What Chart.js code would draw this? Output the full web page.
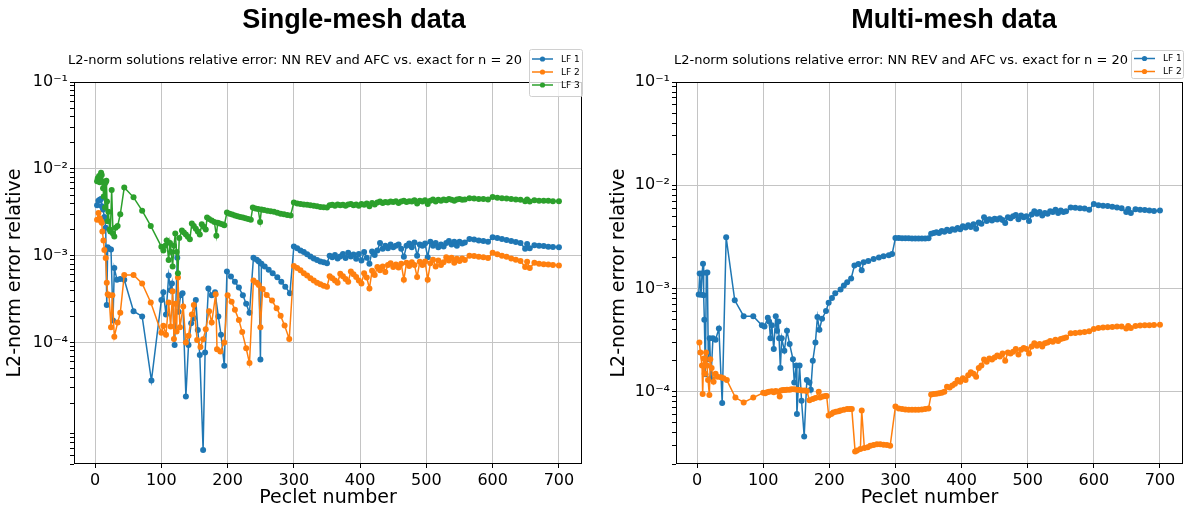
<!DOCTYPE html>
<html lang="en">

<head>
    <meta charset="UTF-8">
    <script src="https://cdn.jsdelivr.net/npm/chart.js"></script>
    <title>Peclet error</title>
    <style>
        body { margin: 0; background: #fff; }
        #wrap { position: relative; width: 1192px; height: 510px; overflow: hidden; }
        canvas { position: absolute; top: 0; }
        .bigtitle { position: absolute; top: 6px; font: bold 27px "Liberation Sans", Arial, sans-serif; line-height: 27px; transform: translateX(-50%); white-space: nowrap; color: #000; }
        .subtitle { position: absolute; top: 52px; font: 13px "DejaVu Sans"; line-height: 16px; transform: translateX(-50%); white-space: nowrap; color: #000; }
    </style>
</head>

<body>
    <div id="wrap">
        <canvas id="cSingle" width="596" height="510" style="left:0"></canvas>
        <canvas id="cMulti" width="596" height="510" style="left:596px"></canvas>
        <div class="bigtitle" style="left:354px">Single-mesh data</div>
        <div class="bigtitle" style="left:954px">Multi-mesh data</div>
        <div class="subtitle" style="left:295px">L2-norm solutions relative error: NN REV and AFC vs. exact for n = 20</div>
        <div class="subtitle" style="left:901px">L2-norm solutions relative error: NN REV and AFC vs. exact for n = 20</div>
    </div>
    <script>
        // Peclet numbers above 300 (same for every series)
        const peHigh = [300, 305, 310, 315, 320, 325, 330, 335, 340, 345, 350,
            354, 358, 362, 366, 370, 374, 378, 382, 386, 390, 394, 398, 402, 406, 410, 414, 418, 422, 426, 430,
            434, 438, 442, 446, 450, 454, 458, 462, 466, 470, 474, 478, 482, 486, 490, 494, 498, 502, 506, 510,
            514, 518, 522, 526, 530, 534, 538, 542, 546, 550, 554, 558,
            565, 572, 579, 586, 593, 600, 607, 614, 621, 628, 635, 642, 649, 652, 656, 663, 670, 677, 684, 691, 700];

        // ---- single-mesh ----
        const sLf1LowX = [3, 5, 7, 9, 10, 12, 14, 16, 17.6, 19, 21, 24, 27, 29, 33, 38, 44, 58, 71, 85,
            100, 103, 107, 111, 114, 116, 120, 124, 126, 129, 132, 137, 141, 145, 149, 152, 155, 158, 163, 166,
            171, 176, 181, 186, 190, 195, 199, 205, 211, 217, 223, 228, 233, 239, 244, 247, 249.5, 251, 256, 262,
            268, 275, 281, 287, 294];
        const sLf1LowY = [3.8e-3, 4.3e-3, 4.4e-3, 4.5e-3, 3.7e-3, 3.4e-3, 2.8e-3, 2.1e-3, 2.7e-4, 1.25e-3,
            1.2e-3, 1.18e-3, 1.8e-4, 7.2e-4, 5.3e-4, 5.4e-4, 5.3e-4, 2.3e-4, 2.0e-4, 3.66e-5,
            3.1e-4, 3.8e-4, 2.1e-4, 5.9e-4, 4.0e-4, 4.8e-4, 9.4e-5, 9.5e-4, 2.27e-4, 3.5e-4,
            3.7e-4, 2.4e-5, 9.4e-5, 1.67e-4, 1.9e-4, 3.1e-4, 1.4e-4, 7.2e-5, 5.8e-6, 7.7e-5,
            4.2e-4, 3.5e-4, 3.8e-4, 2.0e-4, 1.23e-4, 5.4e-5, 6.6e-4, 5.75e-4, 5.0e-4, 4.3e-4,
            3.5e-4, 2.8e-4, 2.2e-4, 9.5e-4, 9.0e-4, 8.6e-4, 6.4e-5, 8.1e-4, 7.5e-4, 6.9e-4,
            6.3e-4, 5.65e-4, 5.0e-4, 4.4e-4, 3.7e-4];
        const sLf1HighY = [1.28e-3, 1.22e-3, 1.15e-3, 1.1e-3, 1.04e-3, 9.8e-4, 9.3e-4, 8.9e-4, 8.6e-4, 8.4e-4, 8.2e-4,
            1.0e-3, 9.6e-4, 1.02e-3, 9.3e-4, 9.8e-4, 1.05e-3, 9.4e-4, 1.08e-3, 9.8e-4, 1.03e-3,
            9.2e-4, 1.05e-3, 8.8e-4, 1.1e-3, 9.5e-4, 8.1e-4, 1.12e-3, 1.02e-3, 1.15e-3, 1.4e-3,
            1.2e-3, 1.3e-3, 1.22e-3, 1.35e-3, 1.25e-3, 1.3e-3, 1.35e-3, 1.2e-3, 9.7e-4, 1.3e-3,
            1.38e-3, 1.25e-3, 1.42e-3, 1.0e-3, 1.35e-3, 1.3e-3, 1.38e-3, 9.6e-4, 1.45e-3, 1.3e-3,
            1.4e-3, 1.25e-3, 1.35e-3, 1.28e-3, 1.4e-3, 1.48e-3, 1.35e-3, 1.45e-3, 1.3e-3, 1.45e-3,
            1.38e-3, 1.42e-3,
            1.56e-3, 1.54e-3, 1.5e-3, 1.48e-3, 1.45e-3, 1.63e-3, 1.6e-3, 1.56e-3, 1.52e-3, 1.48e-3, 1.44e-3,
            1.4e-3, 1.2e-3, 1.36e-3, 1.22e-3, 1.32e-3, 1.3e-3, 1.29e-3, 1.27e-3, 1.26e-3, 1.25e-3];

        const sLf2LowX = [3, 5, 7, 9, 10, 11, 12.6, 14, 16, 17.6, 19, 21, 24, 26, 29, 34, 38, 44, 58, 71,
            84, 100, 103, 107, 111, 114, 117, 119, 121, 123, 125, 128, 133, 137, 141, 146, 149, 154, 159, 163,
            167, 172, 176, 182, 184, 189, 195, 200, 206, 211, 217, 222, 228, 233, 239, 244, 247, 249.5, 253, 259,
            267, 274, 280, 286, 293];
        const sLf2LowY = [2.6e-3, 3.1e-3, 2.7e-3, 2.5e-3, 2.4e-3, 1.9e-3, 1.5e-3, 1.16e-3, 9.4e-4, 4.9e-4,
            3.6e-4, 3.5e-4, 1.5e-4, 3.5e-4, 1.17e-4, 1.7e-4, 2.2e-4, 6.0e-4, 6.0e-4, 4.8e-4,
            2.9e-4, 1.3e-4, 1.56e-4, 1.23e-4, 2.9e-4, 1.53e-4, 3.9e-4, 1.1e-4, 2.8e-4, 1.34e-4,
            5.6e-4, 1.5e-4, 2.6e-4, 1.0e-4, 1.2e-4, 2.1e-4, 2.7e-4, 1.07e-4, 8.9e-5, 1.09e-4,
            1.42e-4, 2.3e-4, 1.7e-4, 3.6e-4, 8.4e-5, 7.9e-5, 1.0e-4, 3.5e-4, 2.96e-4, 2.38e-4,
            1.82e-4, 1.32e-4, 8.6e-5, 5.8e-5, 5.2e-4, 4.9e-4, 4.6e-4, 1.5e-4, 4.15e-4, 3.54e-4,
            3.05e-4, 2.48e-4, 2.03e-4, 1.57e-4, 1.1e-4];
        const sLf2HighY = [7.6e-4, 7.2e-4, 6.8e-4, 6.3e-4, 5.9e-4, 5.5e-4, 5.2e-4, 4.9e-4, 4.7e-4, 4.5e-4, 4.4e-4,
            5.8e-4, 5.5e-4, 5.2e-4, 4.9e-4, 6.2e-4, 5.8e-4, 5.4e-4, 5.0e-4, 6.6e-4, 6.1e-4,
            5.7e-4, 5.2e-4, 4.8e-4, 6.3e-4, 5.6e-4, 4.2e-4, 6.7e-4, 6.0e-4, 7.4e-4, 6.8e-4,
            7.5e-4, 6.5e-4, 7.8e-4, 8.2e-4, 7.4e-4, 7.9e-4, 7.3e-4, 8.1e-4, 5.3e-4, 8.3e-4,
            7.6e-4, 8.4e-4, 7.8e-4, 5.7e-4, 8.5e-4, 7.8e-4, 8.6e-4, 5.3e-4, 8.2e-4, 9.0e-4,
            7.5e-4, 8.8e-4, 7.8e-4, 8.4e-4, 9.6e-4, 8.8e-4, 9.5e-4, 8.3e-4, 9.2e-4, 8.7e-4,
            9.3e-4, 8.9e-4,
            1.0e-3, 9.9e-4, 9.7e-4, 9.6e-4, 9.4e-4, 1.08e-3, 1.04e-3, 1.0e-3, 9.7e-4, 9.3e-4, 9.0e-4,
            8.7e-4, 7.4e-4, 8.5e-4, 7.2e-4, 8.3e-4, 8.1e-4, 8.0e-4, 7.9e-4, 7.8e-4, 7.7e-4];

        const sLf3LowX = [3, 4, 5, 6, 7, 8, 9, 10, 11, 12, 13, 14, 15, 16, 17, 18, 19, 20, 22, 23,
            25, 27, 29, 31, 34, 38, 44, 58, 71, 84, 100, 103, 106, 108, 111, 113, 115, 117, 119, 121,
            123, 125, 127, 131, 134, 137, 140, 143, 146, 149, 152, 155, 158, 161, 164, 167, 169, 172, 176, 180,
            183, 185, 188, 192, 195, 199, 203, 207, 211, 215, 219, 223, 227, 231, 235, 238, 242, 246, 249, 251,
            255, 260, 265, 270, 275, 280, 285, 290, 295];
        const sLf3LowY = [7.2e-3, 7.8e-3, 7.4e-3, 8.3e-3, 7.0e-3, 8.0e-3, 9.0e-3, 8.5e-3, 7.2e-3, 6.0e-3,
            4.8e-3, 6.6e-3, 3.6e-3, 7.0e-3, 7.3e-3, 4.2e-3, 2.5e-3, 3.2e-3, 2.0e-3, 1.9e-3,
            5.7e-3, 1.8e-3, 1.66e-3, 2.1e-3, 2.2e-3, 3.0e-3, 6.1e-3, 4.7e-3, 3.3e-3, 2.2e-3,
            1.27e-3, 1.15e-3, 1.3e-3, 1.5e-3, 8.9e-4, 1.4e-3, 1.1e-3, 7.5e-4, 1.3e-3, 1.8e-3,
            1.1e-3, 6.3e-4, 1.6e-3, 1.95e-3, 1.85e-3, 1.75e-3, 1.65e-3, 1.55e-3, 2.35e-3, 2.2e-3,
            2.05e-3, 1.9e-3, 1.75e-3, 2.3e-3, 2.15e-3, 2.0e-3, 2.75e-3, 2.65e-3, 2.55e-3, 2.45e-3,
            1.7e-3, 2.4e-3, 2.35e-3, 2.3e-3, 2.25e-3, 3.15e-3, 3.05e-3, 2.98e-3, 2.9e-3, 2.85e-3,
            2.8e-3, 2.75e-3, 2.7e-3, 2.65e-3, 2.6e-3, 3.6e-3, 3.5e-3, 3.45e-3, 2.45e-3, 3.4e-3,
            3.35e-3, 3.3e-3, 3.25e-3, 3.2e-3, 3.12e-3, 3.05e-3, 3.0e-3, 2.95e-3, 2.9e-3];
        const sLf3HighY = [4.1e-3, 4.0e-3, 3.95e-3, 3.9e-3, 3.85e-3, 3.8e-3, 3.75e-3, 3.7e-3, 3.65e-3, 3.62e-3, 3.58e-3,
            3.8e-3, 3.85e-3, 3.75e-3, 3.9e-3, 3.8e-3, 3.85e-3, 3.75e-3, 3.9e-3, 3.95e-3, 3.8e-3,
            3.9e-3, 3.75e-3, 3.95e-3, 3.85e-3, 4.0e-3, 3.7e-3, 4.05e-3, 3.9e-3, 4.1e-3, 4.2e-3,
            4.05e-3, 4.15e-3, 4.1e-3, 4.2e-3, 4.15e-3, 4.25e-3, 4.05e-3, 4.2e-3, 4.3e-3, 4.15e-3,
            4.25e-3, 4.2e-3, 4.35e-3, 4.0e-3, 4.3e-3, 4.2e-3, 4.35e-3, 3.95e-3, 4.3e-3, 4.45e-3,
            4.2e-3, 4.4e-3, 4.3e-3, 4.45e-3, 4.35e-3, 4.5e-3, 4.4e-3, 4.3e-3, 4.45e-3, 4.5e-3,
            4.4e-3, 4.45e-3,
            4.6e-3, 4.55e-3, 4.5e-3, 4.5e-3, 4.45e-3, 4.75e-3, 4.65e-3, 4.6e-3, 4.55e-3, 4.5e-3, 4.45e-3,
            4.4e-3, 4.25e-3, 4.45e-3, 4.2e-3, 4.35e-3, 4.3e-3, 4.3e-3, 4.28e-3, 4.25e-3, 4.25e-3];

        // ---- multi-mesh ----
        const mLf1LowX = [2.5, 4, 6, 7.5, 9, 10, 11, 12.6, 14, 15.6, 17, 19, 21, 24, 28, 33, 38, 44, 57, 70.5,
            85, 98, 102, 107, 109, 111, 113, 116, 119, 121, 123, 124, 126, 128, 132, 136, 140, 145, 147, 150,
            151, 155, 158, 162, 166, 170, 172, 175, 179, 182, 185, 189, 195, 199, 204, 209, 217, 222, 227, 233,
            238, 244, 249, 252, 259, 267, 275, 282, 290, 295];
        const mLf1LowY = [8.75e-4, 1.4e-3, 8.7e-4, 1.4e-3, 1.74e-3, 8.6e-4, 5.0e-4, 1.48e-4, 1.42e-3, 1.43e-3,
            2.07e-4, 3.3e-4, 1.35e-4, 3.3e-4, 3.2e-4, 4.1e-4, 7.8e-5, 3.13e-3, 7.7e-4, 5.4e-4,
            5.4e-4, 4.4e-4, 4.3e-4, 5.2e-4, 4.8e-4, 3.3e-4, 4.4e-4, 2.6e-4, 5.4e-4, 3.9e-4,
            4.8e-4, 3.3e-4, 1.7e-4, 3.3e-4, 2.5e-4, 3.9e-4, 2.9e-4, 2.07e-4, 1.23e-4, 1.8e-4,
            6.1e-5, 1.8e-4, 8.2e-5, 3.7e-5, 1.3e-4, 1.23e-4, 1.05e-4, 2.0e-4, 3.0e-4, 5.3e-4,
            4.0e-4, 5.1e-4, 6.05e-4, 7.3e-4, 8.1e-4, 9.0e-4, 9.8e-4, 1.07e-3, 1.15e-3, 1.25e-3,
            1.67e-3, 1.73e-3, 1.5e-3, 1.8e-3, 1.85e-3, 1.93e-3, 2.0e-3, 2.05e-3, 2.1e-3, 2.16e-3];
        const mLf1HighY = [3.08e-3, 3.08e-3, 3.07e-3, 3.07e-3, 3.07e-3, 3.06e-3, 3.06e-3, 3.06e-3, 3.05e-3, 3.06e-3, 3.07e-3,
            3.4e-3, 3.45e-3, 3.5e-3, 3.45e-3, 3.6e-3, 3.55e-3, 3.7e-3, 3.6e-3, 3.75e-3, 3.7e-3,
            3.85e-3, 3.75e-3, 4.0e-3, 3.9e-3, 4.1e-3, 3.95e-3, 4.2e-3, 3.8e-3, 4.35e-3, 4.25e-3,
            4.9e-3, 4.5e-3, 4.7e-3, 4.55e-3, 4.75e-3, 4.65e-3, 4.8e-3, 4.6e-3, 4.3e-3, 4.9e-3,
            4.8e-3, 5.0e-3, 5.15e-3, 4.7e-3, 5.1e-3, 4.9e-3, 5.0e-3, 4.5e-3, 5.2e-3, 5.6e-3,
            5.3e-3, 5.5e-3, 5.1e-3, 5.4e-3, 5.3e-3, 5.6e-3, 5.5e-3, 5.8e-3, 5.4e-3, 5.7e-3,
            5.5e-3, 5.6e-3,
            6.1e-3, 6.05e-3, 6.0e-3, 5.95e-3, 5.8e-3, 6.6e-3, 6.4e-3, 6.35e-3, 6.3e-3, 6.2e-3, 6.1e-3,
            6.0e-3, 5.5e-3, 5.9e-3, 5.4e-3, 5.85e-3, 5.8e-3, 5.75e-3, 5.7e-3, 5.65e-3, 5.7e-3];

        const mLf2LowX = [3.5, 5, 7.5, 8.5, 10, 11.5, 13.6, 15, 16.6, 18.6, 20, 22, 25, 28, 31, 36, 40, 45, 58, 70.5, 85,
            100, 103, 106, 109, 113, 116, 119, 122, 125, 127, 130, 133, 136, 140, 143, 147, 151, 155, 159, 163, 166,
            170, 175, 179, 184, 186, 190, 194, 196,
            199, 203, 206, 210, 214, 217, 222, 227, 231, 234,
            239, 242, 247, 249, 253, 258, 262, 267, 272, 277, 282, 287, 292];
        const mLf2LowY = [3.0e-4, 2.4e-4, 1.8e-4, 9.5e-5, 2.1e-4, 1.5e-4, 2.4e-4, 1.8e-4, 1.3e-4, 9.3e-5, 2.07e-4,
            1.7e-4, 1.25e-4, 1.5e-4, 1.4e-4, 1.38e-4, 1.35e-4, 1.3e-4, 8.8e-5, 7.9e-5, 8.8e-5,
            9.8e-5, 9.7e-5, 9.9e-5, 1.0e-4, 1.01e-4, 9.9e-5, 1.02e-4, 1.0e-4, 9.0e-5, 1.03e-4, 1.04e-4,
            1.04e-4, 1.05e-4, 1.05e-4, 1.06e-4, 1.06e-4, 1.05e-4, 1.04e-4, 1.03e-4, 1.03e-4, 1.02e-4,
            8.3e-5, 8.5e-5, 8.7e-5, 1.0e-4, 8.8e-5, 9.0e-5, 9.1e-5, 9.1e-5,
            5.9e-5, 6.1e-5, 6.3e-5, 6.4e-5, 6.5e-5, 6.6e-5, 6.7e-5, 6.8e-5, 6.8e-5, 6.8e-5,
            2.65e-5, 2.7e-5, 2.8e-5, 6.6e-5, 2.85e-5, 2.9e-5, 3.0e-5, 3.05e-5, 3.1e-5, 3.1e-5, 3.08e-5, 3.05e-5, 3.0e-5];
        const mLf2HighY = [7.2e-5, 6.9e-5, 6.8e-5, 6.75e-5, 6.7e-5, 6.7e-5, 6.7e-5, 6.7e-5, 6.75e-5, 6.8e-5, 6.9e-5,
            9.4e-5, 9.5e-5, 9.6e-5, 9.7e-5, 9.8e-5, 1.0e-4, 1.12e-4, 1.1e-4, 1.15e-4, 1.2e-4,
            1.3e-4, 1.25e-4, 1.35e-4, 1.3e-4, 1.45e-4, 1.55e-4, 1.5e-4, 1.4e-4, 1.7e-4, 1.8e-4,
            2.05e-4, 1.95e-4, 2.1e-4, 2.05e-4, 2.15e-4, 2.25e-4, 2.2e-4, 2.35e-4, 2.0e-4, 2.4e-4,
            2.35e-4, 2.45e-4, 2.6e-4, 2.3e-4, 2.55e-4, 2.65e-4, 2.6e-4, 2.35e-4, 2.75e-4, 2.95e-4,
            2.8e-4, 2.9e-4, 2.75e-4, 2.95e-4, 3.0e-4, 3.1e-4, 3.05e-4, 3.2e-4, 3.1e-4, 3.25e-4,
            3.3e-4, 3.35e-4,
            3.7e-4, 3.72e-4, 3.75e-4, 3.8e-4, 3.85e-4, 4.05e-4, 4.15e-4, 4.2e-4, 4.22e-4, 4.25e-4, 4.28e-4,
            4.3e-4, 4.1e-4, 4.35e-4, 4.15e-4, 4.35e-4, 4.38e-4, 4.4e-4, 4.42e-4, 4.43e-4, 4.45e-4];

        const xTickVals = [0, 100, 200, 300, 400, 500, 600, 700];
        const yMajor = [1e-4, 1e-3, 1e-2, 1e-1];
        const yMajorLabels = ['10⁻⁴', '10⁻³', '10⁻²', '10⁻¹'];

        const FONT = 'DejaVu Sans';
        const BLUE = '#1f77b4', ORANGE = '#ff7f0e', GREEN = '#2ca02c';
        const GRID = '#c4c4c4';

        // log ticks: majors at the labelled decades, minors at 2..9 x 10^k
        function logTicks(min) {
            var t = [];
            for (var k = -6; k <= -2; k++) {
                for (var m = 1; m <= 9; m++) {
                    var v = m * Math.pow(10, k);
                    if (v < min || v > 0.1) continue;
                    var mi = yMajor.findIndex(u => Math.abs(u - v) < v * 1e-9);
                    if (m === 1 && mi < 0) continue;
                    t.push({ value: mi >= 0 ? yMajor[mi] : v, major: mi >= 0 });
                }
            }
            t.push({ value: 0.1, major: true });
            return t;
        }

        function series(label, color, xs, ys, order) {
            return {
                label: label,
                data: xs.map((x, i) => ({ x: x, y: ys[i] })),
                borderColor: color,
                backgroundColor: color,
                pointBackgroundColor: color,
                borderWidth: 1.5,
                pointRadius: 3,
                pointHoverRadius: 3,
                pointBorderWidth: 0,
                tension: 0,
                fill: false,
                order: order
            };
        }

        const frameAndLegend = {
            id: 'frameAndLegend',
            afterDatasetsDraw(chart) {
                const ctx = chart.ctx, a = chart.chartArea;
                ctx.save();
                ctx.strokeStyle = '#000';
                ctx.lineWidth = 1;
                ctx.strokeRect(a.left + 0.5, a.top + 0.5, a.right - a.left - 1, a.bottom - a.top - 1);
                ctx.restore();
            },
            afterDraw(chart, args, o) {
                const ctx = chart.ctx;
                ctx.save();
                ctx.fillStyle = 'rgba(255,255,255,0.8)';
                ctx.strokeStyle = '#d0d0d0';
                ctx.lineWidth = 1;
                ctx.beginPath();
                ctx.roundRect(o.x + 0.5, o.y + 0.5, o.w, o.h, 2);
                ctx.fill();
                ctx.stroke();
                ctx.font = '9px "' + FONT + '"';
                ctx.textBaseline = 'middle';
                chart.data.datasets.forEach((ds, i) => {
                    const y = o.rows[i];
                    ctx.strokeStyle = ds.borderColor;
                    ctx.lineWidth = 1.5;
                    ctx.beginPath();
                    ctx.moveTo(o.h0, y);
                    ctx.lineTo(o.h1, y);
                    ctx.stroke();
                    ctx.fillStyle = ds.borderColor;
                    ctx.beginPath();
                    ctx.arc((o.h0 + o.h1) / 2, y, 2.6, 0, Math.PI * 2);
                    ctx.fill();
                    ctx.fillStyle = '#000';
                    ctx.fillText(ds.label, o.tx, y + 0.5);
                });
                ctx.restore();
            }
        };

        function makeChart(id, datasets, cfg) {
            return new Chart(document.getElementById(id), {
                type: 'line',
                data: { datasets: datasets },
                plugins: [frameAndLegend],
                options: {
                    responsive: false,
                    animation: false,
                    events: [],
                    layout: { padding: { top: 82, right: cfg.padRight, left: 0, bottom: 0 } },
                    plugins: {
                        legend: { display: false },
                        tooltip: { enabled: false },
                        frameAndLegend: cfg.legend
                    },
                    scales: {
                        x: {
                            type: 'linear',
                            min: -31.85,
                            max: 734.85,
                            afterBuildTicks: s => { s.ticks = xTickVals.map(v => ({ value: v })); },
                            afterFit: s => { s.height = 46; },
                            border: { display: false },
                            grid: { color: GRID, lineWidth: 1, tickLength: 4, tickColor: '#000' },
                            ticks: { color: '#000', font: { family: FONT, size: 16 }, padding: 3, maxRotation: 0, autoSkip: false },
                            title: { display: true, text: 'Peclet number', color: '#000', font: { family: FONT, size: 19 }, padding: { top: 0, bottom: 1 } }
                        },
                        y: {
                            type: 'logarithmic',
                            min: cfg.yMin,
                            max: 0.1,
                            afterBuildTicks: s => { s.ticks = logTicks(cfg.yMin); },
                            afterFit: s => { s.width = cfg.yWidth; },
                            border: { display: false },
                            grid: {
                                color: c => (c.tick && c.tick.major) ? GRID : 'rgba(0,0,0,0)',
                                lineWidth: 1,
                                tickLength: 4,
                                tickColor: '#000'
                            },
                            ticks: {
                                color: '#000',
                                font: { family: FONT, size: 16 },
                                padding: 2,
                                autoSkip: false,
                                callback: v => {
                                    const i = yMajor.indexOf(v);
                                    return i >= 0 ? yMajorLabels[i] : '';
                                }
                            },
                            title: { display: true, text: 'L2-norm error relative', color: '#000', font: { family: FONT, size: 19 }, padding: { top: cfg.titlePad, bottom: 0 } }
                        }
                    }
                }
            });
        }

        makeChart('cSingle', [
            series('LF 1', BLUE, sLf1LowX.concat(peHigh), sLf1LowY.concat(sLf1HighY), 3),
            series('LF 2', ORANGE, sLf2LowX.concat(peHigh), sLf2LowY.concat(sLf2HighY), 2),
            series('LF 3', GREEN, sLf3LowX.concat(peHigh), sLf3LowY.concat(sLf3HighY), 1)
        ], {
            yMin: 4.0e-6, yWidth: 74, padRight: 14, titlePad: 4,
            legend: { x: 529, y: 49, w: 53, h: 47, rows: [59, 72, 85], h0: 532, h1: 553, tx: 561 }
        });

        makeChart('cMulti', [
            series('LF 1', BLUE, mLf1LowX.concat(peHigh), mLf1LowY.concat(mLf1HighY), 2),
            series('LF 2', ORANGE, mLf2LowX.concat(peHigh), mLf2LowY.concat(mLf2HighY), 1)
        ], {
            yMin: 2.0e-5, yWidth: 80, padRight: 9, titlePad: 12,
            legend: { x: 535, y: 50, w: 52, h: 28, rows: [58.5, 71.5], h0: 538, h1: 559, tx: 567 }
        });
    </script>

</body>

</html>
